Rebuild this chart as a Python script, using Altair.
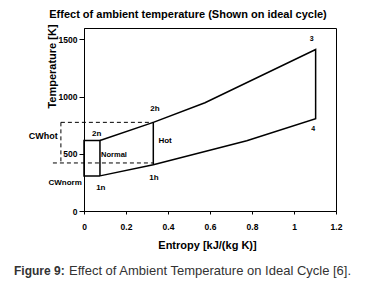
import altair as alt
import pandas as pd

FONT = "Liberation Sans"

# Hot cycle outline: entropy [kJ/(kg K)] and temperature [K]
hot_s = [0.076, 0.33, 0.576, 1.103, 1.103, 0.775, 0.33, 0.076]
hot_t = [617, 775, 947, 1412, 807, 614, 404, 307]
# Normal cycle box
normal_s = [0.076, 0.0, 0.0, 0.076, 0.076]
normal_t = [307, 307, 617, 617, 307]
# Hot compression line
hotv_s = [0.33, 0.33]
hotv_t = [404, 775]

# Dashed cooling-water guides
dash_id = ["a", "a", "b", "b", "c", "c"]
dash_s = [-0.11, 0.33, -0.148, 0.33, -0.11, -0.11]
dash_t = [775, 775, 420, 420, 775, 420]

# Point labels
lab_text = ["2n", "2h", "Hot", "Normal", "1n", "1h", "3", "4", "CWhot", "CWnorm"]
lab_s = [0.060, 0.338, 0.386, 0.143, 0.080, 0.333, 1.084, 1.092, -0.194, -0.090]
lab_t = [670, 892, 612, 489, 201, 292, 1501, 714, 656, 249]
lab_fs = [8, 8, 8, 7.5, 8, 8, 7, 7, 9, 8]

x_ticks = [0, 0.2, 0.4, 0.6, 0.8, 1.0, 1.2]
y_ticks = [0, 500, 1000, 1500]

title_text = "Effect of ambient temperature (Shown on ideal cycle)"
cap_bold = "Figure 9:"
cap_rest = "Effect of Ambient Temperature on Ideal Cycle [6]."

rows = []
for i, (s, t) in enumerate(zip(hot_s, hot_t)):
    rows.append({"seg": "hot", "o": i, "s": s, "t": t})
for i, (s, t) in enumerate(zip(normal_s, normal_t)):
    rows.append({"seg": "normal", "o": i, "s": s, "t": t})
for i, (s, t) in enumerate(zip(hotv_s, hotv_t)):
    rows.append({"seg": "hotv", "o": i, "s": s, "t": t})
lines = pd.DataFrame(rows)

dash = pd.DataFrame({"seg": dash_id, "o": list(range(len(dash_id))), "s": dash_s, "t": dash_t})
labels = pd.DataFrame({"txt": lab_text, "s": lab_s, "t": lab_t, "fs": lab_fs})

xs = alt.Scale(domain=[0, 1.2], nice=False, zero=False)
ys = alt.Scale(domain=[0, 1600], nice=False, zero=False)

xaxis = alt.Axis(values=x_ticks, format="~g", grid=False, tickSize=3, labelPadding=8,
                 labelFont=FONT, labelFontSize=8.5, labelFontWeight="bold", labelColor="black",
                 domainColor="black", tickColor="black", labelFlush=False,
                 title="Entropy [kJ/(kg K)]", titleFont=FONT, titleFontSize=11,
                 titleFontWeight="bold", titleColor="black", titleX=123, titleY=34,
                 titleBaseline="middle", titleAlign="center")
yaxis = alt.Axis(values=y_ticks, format="d", grid=False, tickSize=5, labelPadding=2,
                 labelFont=FONT, labelFontSize=8.5, labelFontWeight="bold", labelColor="black",
                 domainColor="black", tickColor="black", labelFlush=False,
                 title="Temperature [K]", titleFont=FONT, titleFontSize=11,
                 titleFontWeight="bold", titleColor="black", titleX=-32, titleY=38,
                 titleAngle=270, titleBaseline="middle", titleAlign="center")

line_layer = alt.Chart(lines).mark_line(color="black", strokeWidth=1.5).encode(
    x=alt.X("s:Q", scale=xs, axis=xaxis),
    y=alt.Y("t:Q", scale=ys, axis=yaxis),
    detail="seg:N",
    order="o:Q",
)

dash_layer = alt.Chart(dash).mark_line(color="black", strokeWidth=1, strokeDash=[4, 3]).encode(
    x=alt.X("s:Q", scale=xs),
    y=alt.Y("t:Q", scale=ys),
    detail="seg:N",
    order="o:Q",
)

label_layer = alt.Chart(labels).mark_text(font=FONT, fontWeight="bold", color="black").encode(
    x=alt.X("s:Q", scale=xs),
    y=alt.Y("t:Q", scale=ys),
    text="txt:N",
    size=alt.Size("fs:Q", scale=None, legend=None),
)

title_layer = alt.Chart(pd.DataFrame({"txt": [title_text]})).mark_text(
    font=FONT, fontWeight="bold", fontSize=11, color="black", align="center", baseline="middle"
).encode(text="txt:N", x=alt.value(104), y=alt.value(-13))

cap1 = alt.Chart(pd.DataFrame({"txt": [cap_bold]})).mark_text(
    font=FONT, fontWeight="bold", fontSize=12, color="#333333", align="left", baseline="middle"
).encode(text="txt:N", x=alt.value(-70), y=alt.value(243))

cap2 = alt.Chart(pd.DataFrame({"txt": [cap_rest]})).mark_text(
    font=FONT, fontSize=13, color="#333333", align="left", baseline="middle"
).encode(text="txt:N", x=alt.value(-15), y=alt.value(243))

chart = alt.layer(line_layer, dash_layer, label_layer, title_layer, cap1, cap2).properties(
    width=252, height=183, autosize="none",
    padding={"left": 76, "top": 20, "right": 41, "bottom": 67},
    background="white",
).configure_view(stroke="black", strokeWidth=1)

chart.save("out.html", embed_options={"renderer": "svg", "actions": False})
